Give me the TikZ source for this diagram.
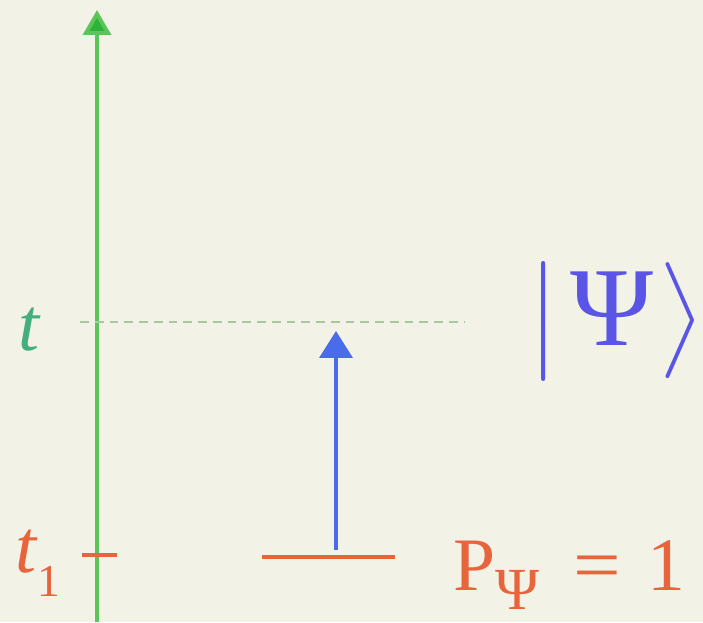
\documentclass[tikz,border=0pt]{standalone}
\usepackage{fix-cm}
\usepackage{amsmath,amssymb}
\usepackage{fontspec}
\setmainfont{Liberation Serif}
\usepackage{xcolor}
\usetikzlibrary{arrows.meta,positioning}
\definecolor{Paper}{HTML}{F3F2E6}
\definecolor{AxisGreen}{HTML}{5CC55A}
\definecolor{TipGreen}{HTML}{2DB33A}
\definecolor{DashGreen}{HTML}{A6C9A0}
\definecolor{TimeTeal}{HTML}{45AE7E}
\definecolor{Level}{HTML}{E8643C}
\definecolor{Evolve}{HTML}{4A6BEB}
\definecolor{Ket}{HTML}{5A55E6}

\begin{document}
\begin{tikzpicture}[x=0.02cm,y=-0.02cm,
  bigmath/.style={inner sep=0pt,font=\fontsize{43}{50}\selectfont},
  ketmath/.style={inner sep=0pt,font=\fontsize{55}{64}\selectfont}]
\fill[Paper] (0,0) rectangle (703,622);
\useasboundingbox (0,0) rectangle (703,622);

% Time axis with the instant t.
\coordinate (axisbot) at (97,622);
\coordinate (axistop) at (97,10);
\draw[-{Triangle[length=0.5cm,width=0.56cm,fill=TipGreen]},AxisGreen,line width=2.2pt]
  (axisbot)--(axistop);
\coordinate (tleft) at (80,322);
\coordinate (tright) at (465,322);
\draw[DashGreen,line width=0.9pt,dash pattern=on 5pt off 3.4pt] (tleft)--(tright);
\node[bigmath,TimeTeal,anchor=base west] (tlab) at (18,350) {\textit{t}};

% Initial level at t1 and evolution up to t.
\coordinate (tickl) at (82,555);
\coordinate (tickr) at (117,555);
\draw[Level,line width=1.8pt] (tickl)--(tickr);
\node[bigmath,Level,anchor=base west] (t1lab) at (15,572)
  {\textit{t}\raisebox{-0.32em}{\fontsize{26}{30}\selectfont 1}};
\coordinate (lvll) at (262,557);
\coordinate (lvlr) at (395,557);
\draw[Level,line width=2pt] (lvll)--(lvlr);
\coordinate (evbot) at (336,550);
\coordinate (evtop) at (336,331);
\draw[-{Triangle[length=0.54cm,width=0.66cm]},Evolve,line width=2.2pt]
  (evbot)--(evtop);
\node[bigmath,Level,anchor=base west] (prob) at (453,590)
  {P\raisebox{-0.26em}{\fontsize{34}{40}\selectfont Ψ}\hspace{0.45em}\scalebox{1.12}[1]{=}\hspace{0.35em}1};
\node[ketmath,Ket] (ket) at (616,321)
  {$\bigl|\mkern2mu\text{\fontsize{64}{72}\selectfont Ψ}\mkern1mu\bigr\rangle$};
\end{tikzpicture}
\end{document}
